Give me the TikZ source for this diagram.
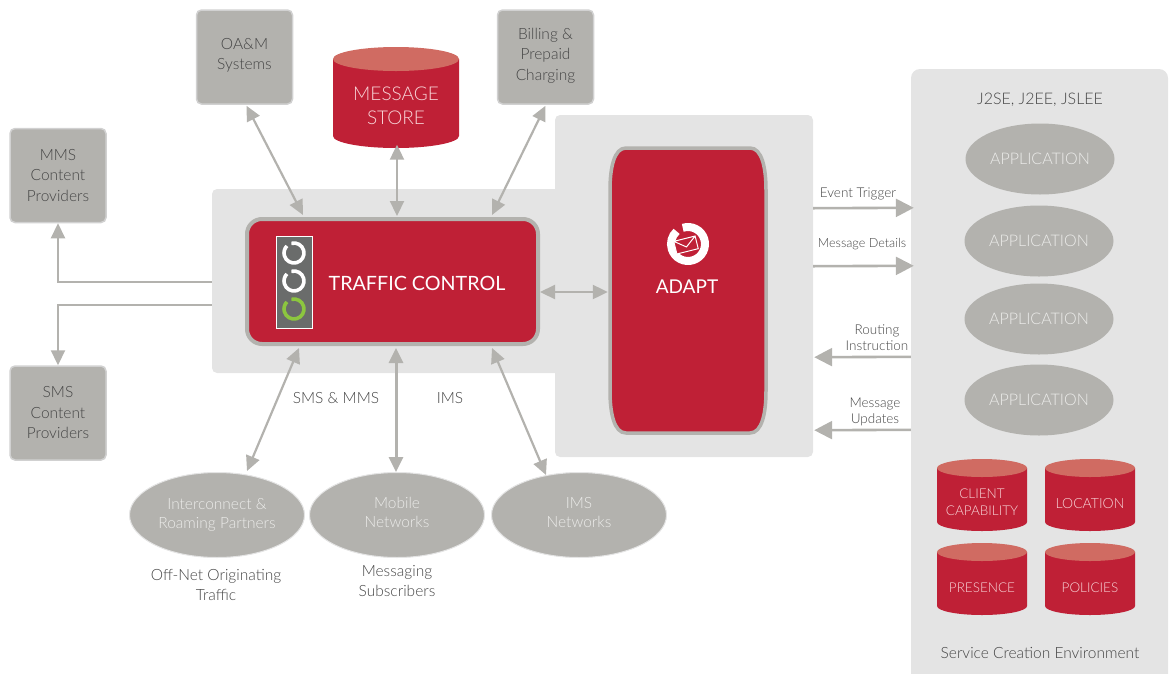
\documentclass[tikz,border=0pt]{standalone}
\usepackage{fontspec}
\setmainfont{Lato Light}
\newfontfamily\mediumfont{Lato}
\usetikzlibrary{arrows.meta,calc,shapes.geometric}
\definecolor{crimson}{HTML}{BF2036}
\definecolor{cylTop}{HTML}{D06B62}
\definecolor{stone}{HTML}{B3B2AE}
\definecolor{panelGrey}{HTML}{E4E4E4}
\definecolor{ink}{HTML}{444444}
\definecolor{pale}{HTML}{ECECEA}
\definecolor{cylText}{HTML}{F8D5D8}
\definecolor{lightGreen}{HTML}{8CC63F}
\definecolor{lampGrey}{HTML}{6A6C6B}
\newcommand{\tailspace}{\rule[-6pt]{0pt}{0pt}}
\newcommand{\shorttail}{\rule[-5pt]{0pt}{0pt}}
\tikzset{
  x=1pt,y=-1pt,
  panelbox/.style={rectangle,fill=panelGrey,rounded corners=5pt,inner sep=0pt},
  greybox/.style={rectangle,fill=stone,draw=black!18,line width=1.5pt,rounded corners=5pt,inner sep=0pt,minimum width=96pt,minimum height=94pt,align=center,text=ink,font=\fontsize{15.5}{20.5}\selectfont},
  blob/.style={ellipse,fill=stone,draw=none,inner sep=0pt,align=center,text=pale,font=\fontsize{15.5}{19}\selectfont},
  appblob/.style={blob,minimum width=149pt,minimum height=71pt,font=\fontsize{16}{19}\selectfont},
  netblob/.style={blob,draw=panelGrey,line width=1pt,minimum width=175pt,minimum height=85pt},
  lab/.style={inner sep=0pt,align=center,text=ink,font=\fontsize{13.5}{16}\selectfont},
  biglab/.style={inner sep=0pt,align=center,text=ink,font=\fontsize{15.5}{20}\selectfont},
  cyltext/.style={rectangle,inner sep=0pt,align=center,text=cylText},
  conn/.style={draw=stone,line width=2.2pt,{Triangle[length=15pt,width=14pt]}-{Triangle[length=15pt,width=14pt]}},
  connthick/.style={conn,line width=3pt},
  oneway/.style={draw=stone,line width=2.2pt,-{Triangle[length=15pt,width=14pt]}},
  bigway/.style={draw=stone,line width=2.6pt,-{Triangle[length=18pt,width=18pt]}},
  ring/.style={line width=3.6pt,draw=white},
}
\newcommand{\drum}[8]{% name, cx, top, bottom, rx, ry, options, text
  \fill[crimson] (#2-#5,#3+#6) -- (#2-#5,#4-#6) arc[start angle=180,end angle=360,x radius=#5 pt,y radius=#6 pt] -- (#2+#5,#3+#6) -- cycle;
  \fill[cylTop] (#2,#3+#6) ellipse[x radius=#5 pt,y radius=#6 pt];
  \node[cyltext,#7,minimum width=2*#5 pt,minimum height=#4-#3-2*#6 pt] (#1) at (#2,{(#3+2*#6+#4)/2}) {#8};
}
\begin{document}
\begin{tikzpicture}
\useasboundingbox (0,0) rectangle (1171,673);
% backgrounds
\node[panelbox,minimum width=400pt,minimum height=184pt] (tcbg) at (412,281) {};
\node[panelbox,minimum width=258pt,minimum height=342pt] (adaptbg) at (684,286) {};
\node[panelbox,rounded corners=9pt,minimum width=257pt,minimum height=625pt] (panel) at (1039.5,381.5) {};
% grey boxes
\node[greybox] (oam) at (244.5,57) {OA\&M\\Systems\tailspace};
\node[greybox] (billing) at (545.5,57) {Billing \&\\Prepaid\\Charging\tailspace};
\node[greybox] (mms) at (58,175.5) {MMS\\Content\\Providers};
\node[greybox] (sms) at (58,413) {SMS\\Content\\Providers};
% networks
\node[netblob] (inter) at (217,515) {Interconnect \&\\Roaming Partners};
\node[netblob] (mobile) at (397,515) {Mobile\\Networks\shorttail};
\node[netblob] (imsnet) at (579,515) {IMS\\Networks\shorttail};
% message store
\drum{store}{396}{47}{148}{63}{12}{font=\fontsize{19}{24}\selectfont,yshift=3.5pt}{MESSAGE\\STORE}
% traffic control
\node[rectangle,fill=crimson,draw=stone,line width=4pt,rounded corners=15pt,minimum width=291pt,minimum height=125pt,inner sep=0pt] (tc) at (392.5,281.5) {};
\node[inner sep=0pt,text=white,font=\mediumfont\fontsize{19.7}{24}\selectfont] (tctext) at (417,283) {TRAFFIC CONTROL};
\node[rectangle,fill=lampGrey,draw=white,line width=0.8pt,minimum width=36pt,minimum height=92pt,inner sep=0pt] (lamp) at (294,282) {};
\draw[ring] (294,253) ++(105:10pt) arc[start angle=105,end angle=-225,radius=10pt];
\draw[ring] (294,281) ++(105:10pt) arc[start angle=105,end angle=-225,radius=10pt];
\draw[ring,draw=lightGreen] (294,309) ++(105:10pt) arc[start angle=105,end angle=-225,radius=10pt];
% adapt
\draw[draw=stone,fill=crimson,line width=3.5pt] (610,190) .. controls (610,168) and (614,148) .. (626,148) -- (750,148) .. controls (762,148) and (766,168) .. (766,190) -- (766,391) .. controls (766,413) and (762,433) .. (750,433) -- (626,433) .. controls (614,433) and (610,413) .. (610,391) -- cycle;
\node[rectangle,minimum width=158pt,minimum height=287pt,inner sep=0pt] (adapt) at (688,290.5) {};
\node[inner sep=0pt,text=white,font=\mediumfont\fontsize{19}{22}\selectfont] (adapttext) at (687,287) {ADAPT};
\draw[white,line width=8pt] (688,244) ++(108:17pt) arc[start angle=108,end angle=-228,radius=17pt];
\draw[white,line width=1pt,fill=crimson,rotate around={14:(686,245)}] (675,238.5) rectangle (697,251.5) (675,238.5) -- (686,247) -- (697,238.5);
% applications
\node[appblob] (app1) at (1040,159) {APPLICATION};
\node[appblob] (app2) at (1039,241) {APPLICATION};
\node[appblob] (app3) at (1039,319) {APPLICATION};
\node[appblob] (app4) at (1039,400) {APPLICATION};
% data stores
\drum{cc}{982}{459}{531}{45}{9}{font=\fontsize{13.5}{17}\selectfont,yshift=2pt}{CLIENT\\CAPABILITY}
\drum{loc}{1090}{459}{531}{45}{9}{font=\fontsize{14}{17}\selectfont}{LOCATION}
\drum{pres}{982}{543}{615}{45}{9}{font=\fontsize{13.5}{17}\selectfont}{PRESENCE}
\drum{pol}{1090}{543}{615}{45}{9}{font=\fontsize{13.5}{17}\selectfont}{POLICIES}
% connectors
\draw[conn] ($(oam.south)+(2,1)$) -- ($(tc.north west)+(58,-2)$);
\draw[conn] ($(store.south)+(1,0)$) -- ($(tc.north)+(4.5,-1)$);
\draw[conn] ($(billing.south)+(0,1)$) -- ($(tc.north east)+(-48,-2)$);
\draw[conn] ($(tc.east)+(0,10.5)$) -- ($(adapt.west)+(-1,1.5)$);
\draw[conn] ($(tc.south west)+(54,2)$) -- ($(inter.north)+(30,-1)$);
\draw[connthick] ($(tc.south)+(3.5,2)$) -- ($(mobile.north)+(-1,0)$);
\draw[conn] ($(tc.south east)+(-48,2)$) -- ($(imsnet.north)+(-33,3)$);
\draw[oneway] ($(tcbg.west)+(0,1)$) -| (mms.south);
\draw[oneway] ($(tcbg.west)+(0,24)$) -| (sms.north);
\draw[bigway] ($(adaptbg.south east)+(0,-249)$) -- ($(panel.north west)+(3,139)$);
\draw[bigway] ($(adaptbg.south east)+(0,-191)$) -- ($(panel.north west)+(3,197)$);
\draw[bigway] ($(panel.north west)+(0,288)$) -- ($(adaptbg.south east)+(1,-100)$);
\draw[bigway] ($(panel.north west)+(0,361)$) -- ($(adaptbg.south east)+(1,-27)$);
% labels
\node[lab] (l1) at (858,193.5) {Event Trigger};
\node[lab,font=\fontsize{12.6}{16}\selectfont] (l2) at (862,244) {Message Details};
\node[lab] (l3) at (877,337.5) {Routing\\Instruction};
\node[lab] (l4) at (875,412) {Message\\Updates};
\node[biglab] (l5) at (336,398) {SMS \& MMS};
\node[biglab] (l6) at (450,398) {IMS};
\node[biglab] (l7) at (216,585) {Off-Net Originating\\Traffic};
\node[biglab] (l8) at (397,581) {Messaging\\Subscribers};
\node[biglab,font=\fontsize{16}{20}\selectfont] (l9) at (1040,99.5) {J2SE, J2EE, JSLEE};
\node[biglab,font=\fontsize{15.5}{20}\selectfont] (l10) at (1040,653) {Service Creation Environment};
\end{tikzpicture}
\end{document}
